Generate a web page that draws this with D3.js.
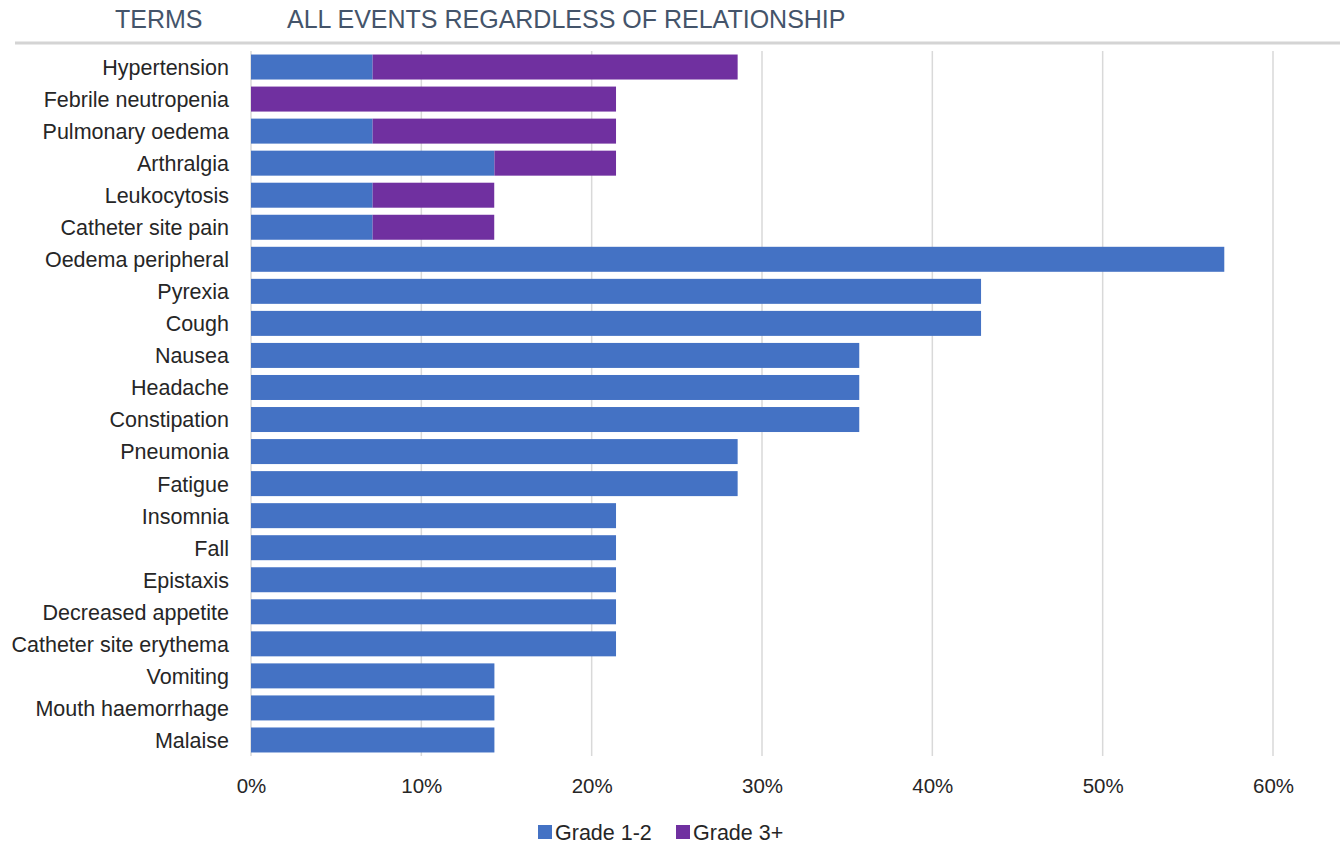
<!DOCTYPE html>
<html>
<head>
<meta charset="utf-8">
<script src="https://cdn.jsdelivr.net/npm/d3@7"></script>
<style>
  html, body { margin: 0; padding: 0; background: #fff; }
  svg { display: block; }
  text { font-family: "Liberation Sans", "DejaVu Sans", sans-serif; }
</style>
</head>
<body>
<svg id="chart" width="1340" height="846"></svg>
<script>
// Adverse event terms, top to bottom
const categories = [
  "Hypertension", "Febrile neutropenia", "Pulmonary oedema", "Arthralgia",
  "Leukocytosis", "Catheter site pain", "Oedema peripheral", "Pyrexia",
  "Cough", "Nausea", "Headache", "Constipation", "Pneumonia", "Fatigue",
  "Insomnia", "Fall", "Epistaxis", "Decreased appetite",
  "Catheter site erythema", "Vomiting", "Mouth haemorrhage", "Malaise"
];

// Percent of patients (n = 14)
const grade12 = [
  7.14, 0, 7.14, 14.29, 7.14, 7.14, 57.14, 42.86, 42.86, 35.71, 35.71,
  35.71, 28.57, 28.57, 21.43, 21.43, 21.43, 21.43, 21.43, 14.29, 14.29, 14.29
];
const grade3plus = [
  21.43, 21.43, 14.29, 7.14, 7.14, 7.14, 0, 0, 0, 0, 0,
  0, 0, 0, 0, 0, 0, 0, 0, 0, 0, 0
];
const seriesNames = ["Grade 1-2", "Grade 3+"];
const seriesColors = ["#4472c4", "#7030a0"];
const xTicks = [0, 10, 20, 30, 40, 50, 60];
const headerLabels = ["TERMS", "ALL EVENTS REGARDLESS OF RELATIONSHIP"];

const svg = d3.select("#chart");
const plotLeft = 251, plotRight = 1273, plotTop = 51, plotBottom = 756;

const x = d3.scaleLinear().domain([0, 60]).range([plotLeft, plotRight]);
const y = d3.scaleBand().domain(categories).range([plotTop, plotBottom])
  .paddingInner(0.22).paddingOuter(0.11);

// Header row
svg.append("text").attr("x", 115).attr("y", 28).attr("font-size", 25)
  .attr("fill", "#44546a").text(headerLabels[0]);
svg.append("text").attr("x", 287).attr("y", 28).attr("font-size", 25)
  .attr("fill", "#44546a").text(headerLabels[1]);
svg.append("line").attr("x1", 15).attr("x2", 1340).attr("y1", 43).attr("y2", 43)
  .attr("stroke", "#d4d4d4").attr("stroke-width", 3);

// Vertical gridlines
svg.append("g").selectAll("line").data(xTicks).join("line")
  .attr("x1", d => x(d)).attr("x2", d => x(d))
  .attr("y1", plotTop).attr("y2", plotBottom)
  .attr("stroke", "#d9d9d9").attr("stroke-width", 1.5);

// Stacked bars
const rows = categories.map((c, i) => ({ cat: c, g12: grade12[i], g3: grade3plus[i] }));
const stack = d3.stack().keys(["g12", "g3"])(rows);
svg.append("g").selectAll("g").data(stack).join("g")
  .attr("fill", (d, i) => seriesColors[i])
  .selectAll("rect").data(d => d.filter(p => p[1] > p[0])).join("rect")
  .attr("x", d => x(d[0]))
  .attr("width", d => x(d[1]) - x(d[0]))
  .attr("y", d => y(d.data.cat))
  .attr("height", y.bandwidth());

// Category labels
const yAxis = svg.append("g").attr("transform", `translate(${plotLeft},1)`)
  .call(d3.axisLeft(y).tickSize(0).tickPadding(22));
yAxis.select(".domain").remove();
yAxis.selectAll("text").attr("font-size", 21.5).attr("fill", "#262626")
  .attr("font-family", "Liberation Sans, sans-serif");

// X axis labels
const xAxis = svg.append("g").attr("transform", `translate(0,${plotBottom + 1})`)
  .call(d3.axisBottom(x).tickValues(xTicks).tickFormat(d => d + "%").tickSize(0).tickPadding(21));
xAxis.select(".domain").remove();
xAxis.selectAll("text").attr("font-size", 20.5).attr("fill", "#262626")
  .attr("font-family", "Liberation Sans, sans-serif");

// Legend
const legendX = [538, 676];
const legend = svg.append("g").selectAll("g").data(seriesNames).join("g")
  .attr("transform", (d, i) => `translate(${legendX[i]},825)`);
legend.append("rect").attr("width", 14).attr("height", 14)
  .attr("fill", (d, i) => seriesColors[i]);
legend.append("text").attr("x", 17).attr("y", 14.5).attr("font-size", 21.5)
  .attr("fill", "#262626").text(d => d);
</script>
</body>
</html>
